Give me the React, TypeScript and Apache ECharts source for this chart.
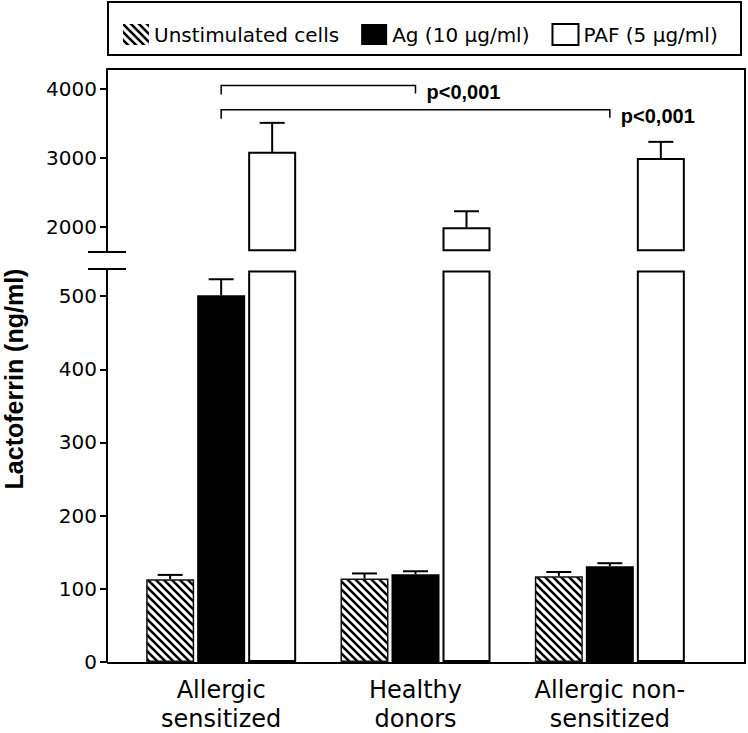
import React, { useEffect, useRef } from "react";
import * as echarts from "echarts";

// ---- data ----
const CATEGORIES = ["Allergic\nsensitized", "Healthy\ndonors", "Allergic non-\nsensitized"];
const SERIES_NAMES = ["Unstimulated cells", "Ag (10 \u03bcg/ml)", "PAF (5 \u03bcg/ml)"];
const UNSTIM = [113, 114, 117];
const UNSTIM_ERR = [6, 7, 6];
const AG = [501, 120, 131];
const AG_ERR = [22, 4, 4];
const PAF = [3090, 2000, 3000];
const PAF_ERR = [420, 230, 235];
const LOWER_TICKS = [0, 100, 200, 300, 400, 500];
const UPPER_TICKS = [2000, 3000, 4000];
const LOWER_MAX = 537;
const UPPER_MIN = 1640;
const UPPER_MAX = 4290;
const BREAK_LOW = 535;
const BREAK_HIGH = 1650;
const BRACKET_FROM = [0, 0];
const BRACKET_TO = [1, 2];
const BRACKET_Y = [4050, 3700];
const BRACKET_LABELS = ["p<0,001", "p<0,001"];

// ---- layout / style ----
const BAR_W = 48;
const BAR_GAP = 3;
const FONT = "DejaVu Sans";

function makeHatch(): HTMLCanvasElement {
  const s = 8;
  const c = document.createElement("canvas");
  c.width = s;
  c.height = s;
  const ctx = c.getContext("2d")!;
  ctx.fillStyle = "#fff";
  ctx.fillRect(0, 0, s, s);
  ctx.strokeStyle = "#000";
  ctx.lineWidth = 2.6;
  for (const o of [-s, 0, s]) {
    ctx.beginPath();
    ctx.moveTo(o - 1, -1);
    ctx.lineTo(o + s + 1, s + 1);
    ctx.stroke();
  }
  return c;
}

export default function App() {
  const ref = useRef<HTMLDivElement>(null);
  useEffect(() => {
    if (!ref.current) return;
    const chart = echarts.init(ref.current, undefined, { renderer: "svg" });
    const hatch = { image: makeHatch(), repeat: "repeat" } as any;

    const errRows = (vals: number[], errs: number[], slot: number) =>
      vals.map((v, i) => [i, v, errs[i], slot]);

    const errorRender = (params: any, api: any) => {
      const idx = api.value(0);
      const v = api.value(1);
      const e = api.value(2);
      const slot = api.value(3);
      const b = api.coord([idx, v]);
      const t = api.coord([idx, v + e]);
      const x = b[0] + (slot - 1) * (BAR_W + BAR_GAP);
      const st = { stroke: "#000", lineWidth: 2 };
      return {
        type: "group",
        children: [
          { type: "line", shape: { x1: x, y1: b[1], x2: x, y2: t[1] }, style: st },
          { type: "line", shape: { x1: x - 12.5, y1: t[1], x2: x + 12.5, y2: t[1] }, style: st },
        ],
      };
    };

    const bracketRender = (params: any, api: any) => {
      const a = api.coord([api.value(0), api.value(2)]);
      const b = api.coord([api.value(1), api.value(2)]);
      return {
        type: "group",
        children: [
          {
            type: "polyline",
            shape: { points: [[a[0], a[1] + 9], [a[0], a[1]], [b[0], a[1]], [b[0], a[1] + 8]] },
            style: { stroke: "#000", lineWidth: 1.5, fill: null },
          },
          {
            type: "text",
            x: b[0] + 11,
            y: a[1] + 6,
            style: {
              text: BRACKET_LABELS[params.dataIndex],
              fontFamily: "Liberation Sans",
              fontWeight: "bold",
              fontSize: 20,
              fill: "#000",
              align: "left",
              verticalAlign: "middle",
            },
          },
        ],
      };
    };

    const yAxisCommon = {
      type: "value",
      offset: 17,
      splitLine: { show: false },
      axisLine: { show: true, lineStyle: { color: "#000", width: 2 } },
      axisTick: { show: true, length: 7, lineStyle: { color: "#000", width: 2 } },
      axisLabel: {
        color: "#000",
        fontFamily: FONT,
        fontSize: 20,
        margin: 10,
        formatter: (v: number) => String(v),
      },
    };

    chart.setOption({
      animation: false,
      backgroundColor: "#fff",
      legend: {
        data: SERIES_NAMES,
        left: 118,
        top: 18,
        icon: "rect",
        itemWidth: 26,
        itemHeight: 21,
        itemGap: 22,
        textStyle: { color: "#000", fontFamily: FONT, fontSize: 20 },
      },
      grid: [
        { left: 124, right: 41, top: 69, height: 183 },
        { left: 124, right: 41, top: 269, height: 394 },
      ],
      xAxis: [
        { type: "category", gridIndex: 0, data: CATEGORIES, show: false },
        {
          type: "category",
          gridIndex: 1,
          data: CATEGORIES,
          axisLine: { show: false },
          axisTick: { show: false },
          axisLabel: {
            color: "#000",
            fontFamily: FONT,
            fontSize: 24,
            lineHeight: 29,
            margin: 13,
            interval: 0,
            hideOverlap: false,
          },
        },
      ],
      yAxis: [
        {
          ...yAxisCommon,
          gridIndex: 0,
          min: UPPER_MIN,
          max: UPPER_MAX,
          axisTick: { ...yAxisCommon.axisTick, customValues: UPPER_TICKS },
          axisLabel: { ...yAxisCommon.axisLabel, customValues: UPPER_TICKS },
        },
        {
          ...yAxisCommon,
          gridIndex: 1,
          min: 0,
          max: LOWER_MAX,
          axisTick: { ...yAxisCommon.axisTick, customValues: LOWER_TICKS },
          axisLabel: { ...yAxisCommon.axisLabel, customValues: LOWER_TICKS },
        },
      ],
      graphic: [
        {
          type: "rect",
          shape: { x: 108, y: 2, width: 633, height: 53 },
          style: { fill: "none", stroke: "#000", lineWidth: 2 },
        },
        {
          type: "polyline",
          shape: { points: [[107, 69], [745, 69], [745, 663], [107, 663]] },
          style: { fill: "none", stroke: "#000", lineWidth: 2 },
        },
        { type: "line", shape: { x1: 88, y1: 252, x2: 126, y2: 252 }, style: { stroke: "#000", lineWidth: 2 } },
        { type: "line", shape: { x1: 88, y1: 269, x2: 126, y2: 269 }, style: { stroke: "#000", lineWidth: 2 } },
        {
          type: "text",
          x: 14,
          y: 379,
          rotation: Math.PI / 2,
          style: {
            text: "Lactoferrin (ng/ml)",
            fontFamily: "Liberation Sans",
            fontWeight: "bold",
            fontSize: 25,
            fill: "#000",
            align: "center",
            verticalAlign: "middle",
          },
        },
      ],
      series: [
        // upper panel
        { type: "bar", name: SERIES_NAMES[0], xAxisIndex: 0, yAxisIndex: 0, data: ["-", "-", "-"], barWidth: BAR_W, barGap: "6.25%", itemStyle: { color: hatch } },
        { type: "bar", name: SERIES_NAMES[1], xAxisIndex: 0, yAxisIndex: 0, data: ["-", "-", "-"], barWidth: BAR_W, barGap: "6.25%", itemStyle: { color: "#000" } },
        {
          type: "bar",
          name: "paf-base",
          xAxisIndex: 0,
          yAxisIndex: 0,
          stack: "paf",
          silent: true,
          data: PAF.map(() => BREAK_HIGH),
          barWidth: BAR_W,
          barGap: "6.25%",
          itemStyle: { color: "rgba(0,0,0,0)" },
        },
        {
          type: "bar",
          name: SERIES_NAMES[2],
          xAxisIndex: 0,
          yAxisIndex: 0,
          stack: "paf",
          data: PAF.map((v) => v - BREAK_HIGH),
          barWidth: BAR_W,
          barGap: "6.25%",
          itemStyle: { color: "#fff", borderColor: "#000", borderWidth: 2 },
        },
        // lower panel
        {
          type: "bar",
          name: SERIES_NAMES[0],
          xAxisIndex: 1,
          yAxisIndex: 1,
          data: UNSTIM,
          barWidth: BAR_W,
          barGap: "6.25%",
          itemStyle: { color: hatch, borderColor: "#111", borderWidth: 1.5 },
        },
        {
          type: "bar",
          name: SERIES_NAMES[1],
          xAxisIndex: 1,
          yAxisIndex: 1,
          data: AG,
          barWidth: BAR_W,
          barGap: "6.25%",
          itemStyle: { color: "#000" },
        },
        {
          type: "bar",
          name: SERIES_NAMES[2],
          xAxisIndex: 1,
          yAxisIndex: 1,
          data: PAF.map((v) => Math.min(v, BREAK_LOW)),
          barWidth: BAR_W,
          barGap: "6.25%",
          itemStyle: { color: "#fff", borderColor: "#000", borderWidth: 2 },
        },
        // error bars
        {
          type: "custom",
          xAxisIndex: 1,
          yAxisIndex: 1,
          clip: false,
          silent: true,
          renderItem: errorRender,
          encode: { x: 0, y: 1 },
          data: [...errRows(UNSTIM, UNSTIM_ERR, 0), ...errRows(AG, AG_ERR, 1)],
          z: 5,
        },
        {
          type: "custom",
          xAxisIndex: 0,
          yAxisIndex: 0,
          clip: false,
          silent: true,
          renderItem: errorRender,
          encode: { x: 0, y: 1 },
          data: errRows(PAF, PAF_ERR, 2),
          z: 5,
        },
        {
          type: "custom",
          xAxisIndex: 0,
          yAxisIndex: 0,
          clip: false,
          silent: true,
          renderItem: bracketRender,
          encode: { x: 0, y: 2 },
          data: BRACKET_FROM.map((f, i) => [f, BRACKET_TO[i], BRACKET_Y[i]]),
          z: 5,
        },
      ],
    } as any);
    return () => chart.dispose();
  }, []);
  return <div ref={ref} style={{ position: "fixed", left: 0, top: 0, width: 748, height: 733 }} />;
}
